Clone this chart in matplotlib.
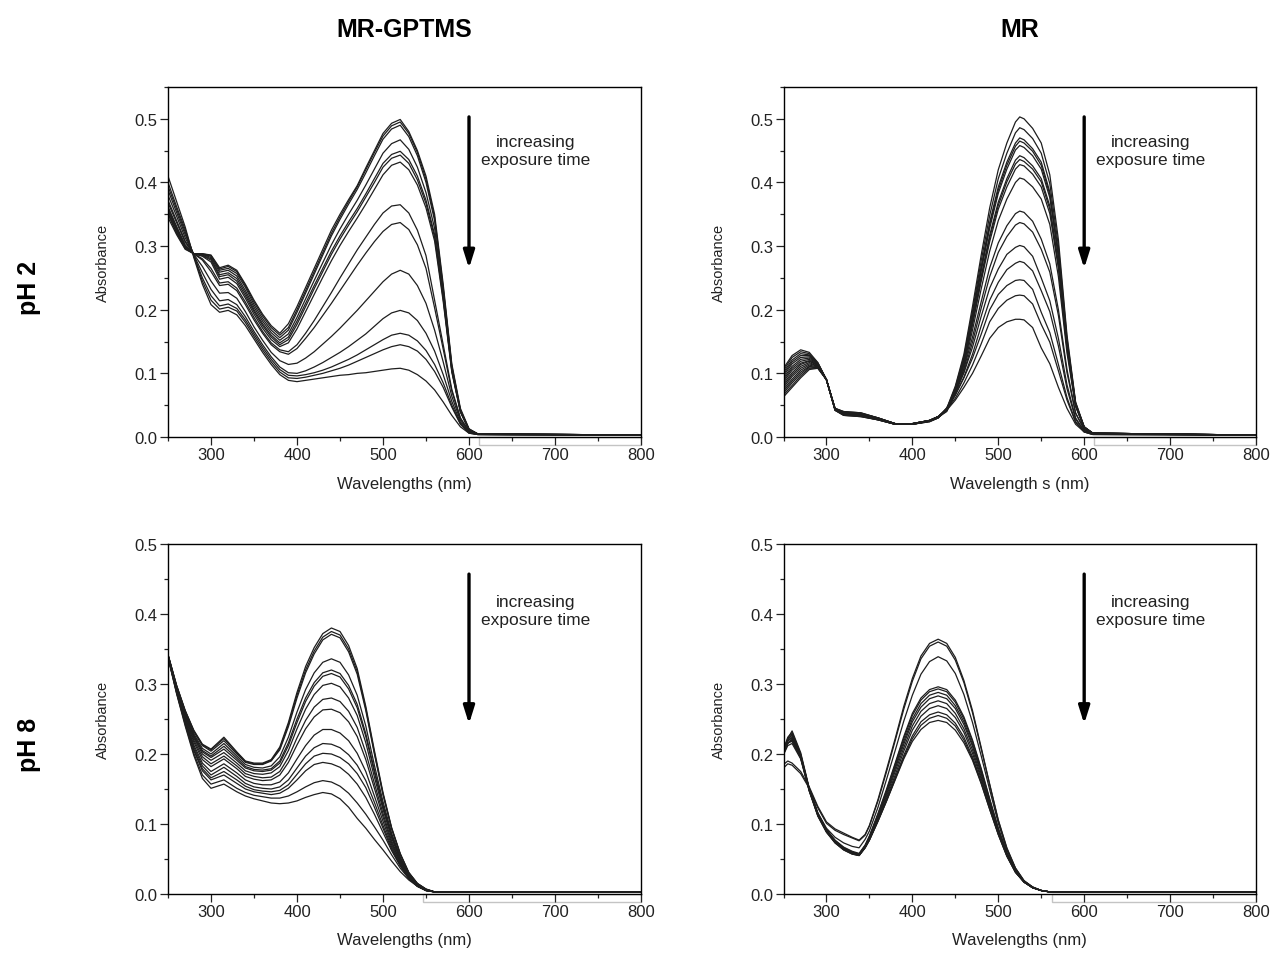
import matplotlib
matplotlib.use("Agg")
import matplotlib.pyplot as plt
import matplotlib.transforms as mtransforms
from matplotlib.patches import Rectangle
from matplotlib.ticker import MultipleLocator, FormatStrFormatter

plt.rcParams['font.family'] = ['Liberation Sans', 'DejaVu Sans']

# ---- MR-GPTMS, pH 2 (absorbance) ----
a_wl = [250, 260, 270, 280, 290, 300, 310, 320, 330, 340, 350, 360, 370, 380, 390, 400,
        410, 420, 430, 440, 450, 460, 470, 480, 490, 500, 510, 520, 530, 540, 550, 560,
        570, 580, 590, 600, 610, 800]
a_curves = [
    [.345, .318, .295, .288, .288, .286, .266, .270, .262, .240, .215, .193, .175, .163, .178, .205, .235, .265, .295, .325, .350, .373, .395, .423, .450, .477, .493, .499, .480, .450, .410, .350, .240, .115, .045, .013, .005, .003],
    [.350, .320, .296, .288, .288, .285, .264, .268, .260, .238, .212, .190, .172, .160, .172, .200, .230, .260, .290, .320, .346, .370, .393, .420, .447, .473, .489, .495, .477, .447, .405, .345, .235, .112, .043, .012, .005, .003],
    [.352, .322, .297, .288, .287, .284, .262, .265, .257, .235, .208, .186, .168, .156, .168, .196, .226, .256, .286, .316, .342, .366, .389, .415, .442, .468, .484, .490, .472, .442, .400, .340, .232, .110, .042, .012, .005, .003],
    [.355, .325, .298, .288, .287, .282, .259, .262, .253, .230, .204, .182, .164, .152, .162, .188, .217, .246, .274, .302, .327, .350, .372, .396, .421, .446, .461, .467, .452, .424, .384, .328, .225, .107, .041, .012, .005, .003],
    [.357, .327, .299, .288, .286, .280, .255, .258, .249, .226, .200, .178, .160, .148, .157, .182, .210, .238, .265, .292, .316, .338, .359, .382, .406, .430, .444, .449, .436, .410, .372, .318, .220, .105, .040, .011, .005, .003],
    [.360, .329, .300, .288, .285, .278, .252, .255, .245, .222, .197, .175, .157, .145, .153, .177, .205, .233, .260, .287, .311, .333, .354, .377, .400, .424, .438, .443, .430, .404, .367, .314, .217, .104, .040, .011, .005, .003],
    [.362, .331, .302, .288, .284, .275, .248, .251, .241, .218, .193, .171, .153, .142, .148, .170, .197, .224, .251, .277, .301, .323, .344, .366, .389, .412, .427, .432, .420, .396, .360, .308, .213, .102, .039, .011, .005, .003],
    [.368, .337, .306, .288, .280, .265, .242, .244, .234, .212, .188, .166, .148, .137, .134, .145, .163, .183, .205, .227, .250, .272, .294, .314, .334, .352, .363, .365, .352, .325, .285, .215, .145, .075, .030, .009, .004, .003],
    [.372, .340, .308, .288, .278, .260, .238, .240, .230, .208, .184, .163, .145, .134, .130, .139, .155, .172, .191, .210, .230, .250, .270, .289, .307, .323, .334, .337, .326, .302, .265, .203, .138, .072, .029, .009, .004, .003],
    [.380, .347, .313, .287, .268, .245, .226, .227, .218, .197, .173, .152, .133, .120, .114, .116, .124, .134, .146, .158, .171, .185, .199, .214, .229, .244, .256, .262, .256, .238, .210, .168, .118, .064, .026, .008, .004, .003],
    [.388, .353, .318, .286, .258, .232, .214, .216, .208, .189, .166, .145, .126, .110, .101, .100, .104, .110, .117, .125, .133, .142, .152, .162, .174, .186, .195, .199, .195, .183, .163, .135, .098, .056, .023, .007, .004, .003],
    [.394, .358, .322, .285, .250, .222, .206, .209, .202, .184, .162, .141, .122, .106, .097, .096, .098, .101, .105, .110, .116, .122, .129, .137, .145, .153, .160, .163, .160, .151, .136, .114, .085, .050, .021, .007, .004, .003],
    [.400, .362, .326, .284, .245, .215, .201, .204, .198, .180, .158, .137, .118, .102, .093, .092, .094, .097, .100, .104, .108, .113, .119, .125, .131, .137, .142, .145, .142, .135, .122, .103, .078, .047, .020, .006, .004, .003],
    [.410, .370, .330, .282, .240, .208, .196, .199, .192, .175, .154, .133, .114, .098, .089, .087, .089, .091, .093, .095, .097, .098, .100, .101, .103, .105, .107, .108, .105, .098, .088, .074, .055, .034, .016, .006, .004, .003],
]

# ---- MR, pH 2 ----
b_wl = [250, 260, 270, 280, 290, 300, 310, 320, 340, 360, 380, 400,
        420, 430, 440, 450, 460, 470, 480, 490, 500, 510, 520, 525, 530, 540, 550, 560,
        570, 580, 590, 600, 610, 800]
b_curves = [
    [.108, .128, .137, .133, .117, .090, .045, .040, .038, .030, .021, .021, .026, .032, .045, .080, .130, .205, .285, .360, .420, .462, .495, .503, .500, .485, .462, .412, .310, .160, .055, .016, .006, .003],
    [.105, .125, .134, .131, .116, .090, .045, .040, .038, .030, .021, .021, .026, .032, .044, .078, .126, .198, .276, .348, .406, .446, .478, .486, .483, .469, .446, .398, .300, .155, .054, .016, .006, .003],
    [.102, .121, .131, .129, .116, .090, .045, .039, .037, .030, .021, .021, .026, .032, .043, .076, .123, .192, .267, .337, .393, .432, .462, .470, .467, .453, .432, .385, .290, .150, .052, .016, .006, .003],
    [.099, .118, .128, .128, .115, .090, .044, .039, .037, .030, .021, .021, .026, .032, .043, .075, .121, .190, .264, .333, .388, .427, .457, .465, .462, .449, .427, .381, .287, .149, .052, .015, .006, .003],
    [.096, .115, .125, .126, .115, .090, .044, .038, .036, .029, .021, .021, .026, .032, .043, .074, .120, .188, .260, .328, .383, .421, .451, .458, .455, .442, .421, .376, .283, .147, .051, .015, .006, .003],
    [.093, .111, .122, .124, .114, .090, .044, .038, .036, .029, .021, .021, .026, .032, .042, .072, .116, .182, .252, .317, .369, .406, .435, .442, .439, .426, .406, .363, .273, .142, .050, .015, .006, .003],
    [.090, .108, .119, .122, .113, .090, .044, .038, .035, .029, .021, .021, .026, .032, .042, .072, .115, .179, .248, .313, .364, .401, .429, .436, .433, .421, .401, .358, .270, .141, .050, .015, .006, .003],
    [.087, .105, .116, .120, .113, .090, .044, .037, .035, .029, .021, .021, .026, .032, .041, .071, .113, .176, .244, .307, .358, .393, .421, .428, .426, .413, .393, .351, .265, .138, .049, .015, .006, .003],
    [.084, .101, .114, .119, .112, .090, .043, .037, .035, .028, .020, .020, .025, .031, .040, .068, .108, .168, .232, .292, .340, .374, .400, .407, .405, .393, .374, .334, .252, .132, .048, .014, .006, .003],
    [.081, .098, .111, .117, .111, .090, .043, .036, .034, .028, .020, .020, .025, .031, .044, .070, .107, .157, .212, .266, .305, .332, .351, .355, .353, .339, .311, .272, .200, .106, .038, .012, .005, .003],
    [.078, .095, .108, .115, .111, .090, .043, .036, .034, .028, .020, .020, .025, .031, .043, .068, .102, .149, .202, .252, .290, .315, .333, .337, .335, .322, .295, .259, .191, .101, .037, .012, .005, .003],
    [.075, .091, .105, .113, .110, .090, .043, .035, .034, .028, .020, .020, .025, .031, .045, .071, .101, .141, .189, .234, .264, .287, .298, .301, .299, .284, .250, .214, .155, .082, .030, .010, .005, .003],
    [.072, .088, .102, .111, .109, .090, .043, .035, .033, .027, .020, .020, .025, .030, .043, .066, .094, .130, .174, .215, .243, .263, .273, .276, .274, .261, .230, .197, .143, .076, .028, .009, .005, .003],
    [.069, .085, .099, .110, .109, .090, .042, .035, .033, .027, .020, .020, .025, .030, .046, .066, .093, .124, .161, .200, .224, .238, .246, .247, .246, .232, .196, .164, .114, .062, .024, .008, .004, .003],
    [.066, .081, .096, .108, .108, .090, .042, .034, .032, .027, .020, .020, .024, .030, .043, .061, .085, .113, .146, .181, .202, .215, .222, .223, .222, .209, .177, .149, .104, .058, .023, .008, .004, .003],
    [.063, .078, .093, .106, .108, .090, .042, .034, .032, .027, .020, .020, .024, .030, .042, .058, .078, .100, .127, .155, .172, .181, .185, .185, .184, .172, .140, .115, .078, .045, .020, .008, .004, .003],
]

# ---- MR-GPTMS, pH 8 ----
c_wl = [250, 260, 270, 280, 290, 300, 315, 330, 340, 350, 360, 370, 380, 390, 400, 410,
        420, 430, 440, 450, 460, 470, 480, 490, 500, 510, 520, 530, 540, 550, 560, 800]
c_curves = [
    [.342, .298, .262, .234, .214, .207, .224, .203, .190, .187, .187, .192, .210, .245, .288, .325, .352, .372, .380, .375, .355, .322, .268, .205, .145, .095, .058, .031, .015, .007, .003, .003],
    [.342, .298, .262, .233, .213, .206, .222, .202, .189, .186, .186, .191, .208, .242, .284, .320, .347, .367, .375, .370, .350, .318, .265, .202, .143, .094, .057, .030, .015, .007, .003, .003],
    [.342, .297, .261, .232, .212, .204, .219, .200, .188, .185, .185, .190, .206, .239, .280, .316, .343, .363, .371, .366, .346, .314, .262, .200, .142, .093, .057, .030, .015, .007, .003, .003],
    [.341, .296, .259, .229, .208, .200, .215, .197, .185, .181, .180, .183, .196, .224, .260, .292, .316, .331, .336, .331, .313, .284, .240, .184, .132, .087, .053, .028, .014, .006, .003, .003],
    [.341, .295, .258, .227, .205, .197, .211, .194, .182, .178, .177, .179, .190, .216, .250, .280, .302, .316, .320, .315, .298, .271, .229, .177, .127, .084, .051, .027, .013, .006, .003, .003],
    [.341, .295, .257, .225, .203, .195, .207, .191, .180, .176, .175, .177, .187, .212, .245, .275, .297, .311, .315, .310, .293, .266, .225, .174, .125, .083, .051, .027, .013, .006, .003, .003],
    [.341, .294, .255, .223, .200, .191, .202, .187, .176, .172, .171, .173, .182, .205, .236, .264, .285, .298, .301, .296, .280, .255, .216, .167, .121, .080, .049, .026, .012, .006, .003, .003],
    [.340, .293, .253, .220, .196, .186, .197, .183, .172, .168, .166, .167, .175, .195, .223, .248, .267, .278, .280, .275, .261, .238, .202, .158, .115, .076, .047, .025, .012, .006, .003, .003],
    [.340, .292, .251, .217, .192, .182, .193, .179, .168, .164, .162, .163, .170, .188, .213, .236, .253, .263, .264, .259, .246, .225, .192, .151, .110, .073, .046, .024, .012, .005, .003, .003],
    [.340, .291, .249, .213, .187, .175, .186, .173, .163, .158, .156, .156, .160, .173, .193, .212, .227, .235, .235, .230, .219, .201, .175, .140, .104, .070, .044, .024, .011, .005, .003, .003],
    [.339, .290, .247, .210, .183, .170, .181, .168, .158, .153, .151, .150, .153, .163, .180, .197, .209, .215, .214, .209, .199, .184, .162, .131, .098, .067, .042, .023, .011, .005, .003, .003],
    [.339, .289, .245, .207, .179, .166, .175, .163, .154, .149, .147, .146, .148, .156, .171, .186, .197, .201, .200, .195, .186, .172, .152, .124, .094, .064, .041, .022, .011, .005, .003, .003],
    [.339, .288, .244, .205, .176, .163, .170, .158, .150, .146, .144, .142, .144, .151, .163, .176, .185, .188, .186, .181, .171, .157, .138, .114, .088, .062, .040, .023, .012, .005, .003, .003],
    [.338, .287, .242, .201, .170, .157, .163, .151, .145, .141, .139, .137, .137, .140, .146, .153, .159, .162, .160, .154, .144, .130, .114, .096, .077, .056, .037, .022, .012, .005, .003, .003],
    [.338, .286, .240, .198, .165, .151, .157, .146, .140, .136, .133, .130, .129, .130, .133, .138, .142, .145, .143, .136, .124, .108, .094, .078, .063, .047, .032, .020, .011, .005, .003, .003],
]

# ---- MR, pH 8 ----
d_wl = [250, 255, 260, 270, 280, 290, 300, 310, 320, 330, 338, 345, 350, 360, 370, 380,
        390, 400, 410, 420, 430, 440, 450, 460, 470, 480, 490, 500, 510, 520, 530, 540,
        550, 560, 800]
d_curves = [
    [.185, .190, .187, .175, .153, .125, .103, .093, .087, .081, .077, .085, .098, .135, .178, .222, .268, .308, .340, .358, .364, .358, .338, .305, .262, .210, .157, .106, .066, .037, .019, .010, .005, .003, .003],
    [.180, .186, .184, .172, .151, .123, .101, .091, .085, .080, .076, .084, .097, .133, .175, .219, .264, .304, .336, .354, .360, .354, .334, .302, .259, .208, .156, .105, .065, .037, .019, .010, .005, .003, .003],
    [.200, .215, .222, .195, .150, .116, .094, .081, .073, .068, .066, .078, .090, .124, .164, .205, .247, .284, .314, .332, .339, .333, .315, .285, .245, .198, .149, .101, .063, .036, .018, .010, .005, .003, .003],
    [.205, .222, .233, .202, .151, .115, .092, .077, .067, .061, .058, .070, .083, .115, .150, .187, .225, .258, .280, .292, .296, .292, .277, .253, .220, .180, .136, .094, .059, .034, .018, .009, .005, .003, .003],
    [.207, .224, .231, .200, .150, .115, .092, .076, .066, .060, .057, .069, .082, .114, .148, .185, .222, .255, .277, .289, .293, .289, .274, .250, .218, .178, .135, .093, .059, .034, .018, .009, .005, .003, .003],
    [.203, .220, .229, .199, .150, .114, .091, .076, .066, .060, .057, .069, .081, .112, .146, .182, .218, .250, .272, .284, .288, .284, .269, .246, .214, .175, .133, .092, .058, .033, .018, .009, .005, .003, .003],
    [.206, .221, .227, .198, .149, .114, .091, .075, .065, .059, .056, .068, .080, .110, .143, .179, .214, .246, .267, .279, .283, .279, .265, .242, .211, .172, .131, .091, .057, .033, .017, .009, .005, .003, .003],
    [.202, .218, .225, .197, .149, .113, .090, .075, .065, .059, .056, .067, .079, .108, .140, .175, .209, .240, .261, .272, .276, .272, .258, .236, .206, .168, .128, .089, .056, .032, .017, .009, .005, .003, .003],
    [.204, .219, .223, .196, .148, .113, .090, .074, .064, .058, .055, .067, .078, .106, .137, .170, .204, .234, .254, .265, .269, .265, .252, .231, .201, .165, .126, .088, .056, .032, .017, .009, .005, .003, .003],
    [.200, .215, .220, .195, .148, .112, .089, .074, .064, .058, .055, .066, .077, .105, .134, .166, .198, .226, .246, .256, .260, .256, .244, .224, .196, .161, .123, .086, .055, .031, .017, .009, .005, .003, .003],
    [.203, .216, .218, .194, .147, .112, .089, .073, .063, .057, .055, .066, .077, .104, .133, .164, .195, .222, .241, .251, .255, .251, .240, .220, .193, .159, .121, .085, .054, .031, .017, .009, .005, .003, .003],
    [.199, .212, .215, .193, .147, .111, .088, .073, .063, .057, .055, .066, .077, .104, .133, .163, .193, .218, .235, .245, .248, .245, .234, .216, .191, .158, .121, .085, .054, .031, .017, .009, .005, .003, .003],
]

col_titles = ['MR-GPTMS', 'MR']
row_titles = ['pH 2', 'pH 8']
x_labels = ['Wavelengths (nm)', 'Wavelength s (nm)', 'Wavelengths (nm)', 'Wavelengths (nm)']
note = 'increasing\nexposure time'


def draw_panel(ax, wl, curves, ymax, xlabel, arrow_y, text_y, box_x0):
    for row in curves:
        ax.plot(wl, row, color='#1e1e1e', lw=0.9)
    ax.set_xlim(250, 800)
    ax.set_ylim(0, ymax)
    ax.xaxis.set_major_locator(MultipleLocator(100))
    ax.xaxis.set_minor_locator(MultipleLocator(50))
    ax.yaxis.set_major_locator(MultipleLocator(0.1))
    ax.yaxis.set_minor_locator(MultipleLocator(0.05))
    ax.yaxis.set_major_formatter(FormatStrFormatter('%.1f'))
    ax.tick_params(which='both', direction='out', top=False, right=False,
                   labelsize=12, width=0.9, colors='#222222')
    ax.tick_params(which='major', length=5.5, pad=2)
    ax.tick_params(which='minor', length=3)
    for sp in ax.spines.values():
        sp.set_linewidth(1.0)
    ax.set_xlabel(xlabel, fontsize=12, color='#222222')
    ax.set_ylabel('Absorbance', fontsize=10.5, color='#222222')
    ax.xaxis.set_label_coords(0.5, -0.11)
    ax.yaxis.set_label_coords(-0.122, 0.5)

    ax.annotate('', xy=(600, arrow_y[1]), xytext=(600, arrow_y[0]),
                arrowprops=dict(arrowstyle='-|>,head_length=0.7,head_width=0.22',
                                color='black', lw=2.4, mutation_scale=15,
                                shrinkA=0, shrinkB=0))
    ax.text(677, text_y, note, ha='center', va='center', fontsize=12.5,
            linespacing=1.3, color='#222222')

    trans = mtransforms.blended_transform_factory(ax.transData, ax.transAxes)
    ax.add_patch(Rectangle((box_x0, -0.023), 800 - box_x0, 0.023, transform=trans,
                           fill=False, ec='#c4c4c4', lw=1.0, clip_on=False))


fig = plt.figure(figsize=(12.77, 9.54), dpi=100)
W, H = 1277, 954
ax_a = fig.add_axes([168 / W, 1 - 438 / H, 473 / W, 350 / H])
ax_b = fig.add_axes([783.5 / W, 1 - 438 / H, 472.5 / W, 350 / H])
ax_c = fig.add_axes([168 / W, 1 - 895 / H, 473 / W, 350 / H])
ax_d = fig.add_axes([783.5 / W, 1 - 895 / H, 472.5 / W, 350 / H])

draw_panel(ax_a, a_wl, a_curves, 0.55, x_labels[0], (0.503, 0.265), 0.45, 612)
draw_panel(ax_b, b_wl, b_curves, 0.55, x_labels[1], (0.503, 0.265), 0.45, 611)
draw_panel(ax_c, c_wl, c_curves, 0.5, x_labels[2], (0.457, 0.243), 0.405, 547)
draw_panel(ax_d, d_wl, d_curves, 0.5, x_labels[3], (0.457, 0.243), 0.405, 563)

fig.text(404 / W, 1 - 30 / H, col_titles[0], ha='center', va='center',
         fontsize=18, fontweight='bold')
fig.text(1020 / W, 1 - 30 / H, col_titles[1], ha='center', va='center',
         fontsize=18, fontweight='bold')
fig.text(29 / W, 1 - 288 / H, row_titles[0], ha='center', va='center',
         fontsize=18, fontweight='bold', rotation=90)
fig.text(29 / W, 1 - 745 / H, row_titles[1], ha='center', va='center',
         fontsize=18, fontweight='bold', rotation=90)

fig.savefig('out.png', dpi=100)
